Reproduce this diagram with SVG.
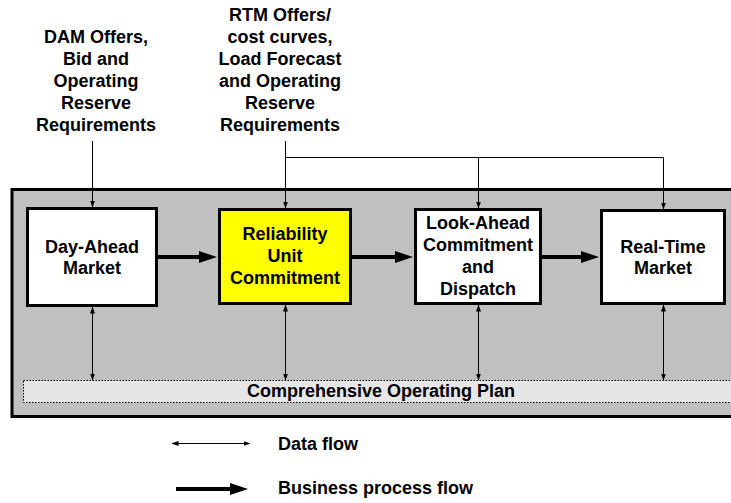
<svg xmlns="http://www.w3.org/2000/svg" width="731" height="503" viewBox="0 0 731 503">
  <style>
    text { font-family: "Liberation Sans", Arial, sans-serif; font-weight: bold; font-size: 18px; fill: #000; }
    .c { text-anchor: middle; }
    .box { fill: #fff; stroke: #000; stroke-width: 3; }
    .ruc { fill: #ffff00; }
    .data { fill: none; stroke: #000; stroke-width: 1; }
    .proc { fill: none; stroke: #000; stroke-width: 4; }
  </style>
  <defs>
    <marker id="dh" markerUnits="userSpaceOnUse" markerWidth="7" markerHeight="6" refX="6.5" refY="2.5" orient="auto-start-reverse">
      <path d="M0,0 L7,2.5 L0,5 z" fill="#000"/>
    </marker>
    <marker id="ph" markerUnits="userSpaceOnUse" markerWidth="19" markerHeight="13" refX="2" refY="6" orient="auto">
      <path d="M0,0 L18,6 L0,12 z" fill="#000"/>
    </marker>
  </defs>

  <!-- market system frame -->
  <rect id="frame" x="12" y="189.5" width="740" height="227" fill="#c0c0c0" stroke="#000" stroke-width="3"/>

  <!-- comprehensive operating plan bar -->
  <g id="cop">
    <rect x="23.5" y="380.5" width="720" height="22" fill="#e6e6e6" stroke="#000" stroke-width="1" stroke-dasharray="1.5,1.5"/>
    <text class="c" x="381" y="397">Comprehensive Operating Plan</text>
  </g>

  <!-- input labels -->
  <g id="dam-inputs">
    <text class="c" x="96" y="43">DAM Offers,</text>
    <text class="c" x="96" y="65">Bid and</text>
    <text class="c" x="96" y="87">Operating</text>
    <text class="c" x="96" y="109">Reserve</text>
    <text class="c" x="96" y="131">Requirements</text>
  </g>
  <g id="rtm-inputs">
    <text class="c" x="280" y="21">RTM Offers/</text>
    <text class="c" x="280" y="43">cost curves,</text>
    <text class="c" x="280" y="65">Load Forecast</text>
    <text class="c" x="280" y="87">and Operating</text>
    <text class="c" x="280" y="109">Reserve</text>
    <text class="c" x="280" y="131">Requirements</text>
  </g>

  <!-- process nodes -->
  <g id="dam">
    <rect class="box" x="27.5" y="208.5" width="129" height="97"/>
    <text class="c" x="92" y="252.5">Day-Ahead</text>
    <text class="c" x="92" y="274">Market</text>
  </g>
  <g id="ruc">
    <rect class="box ruc" x="219.5" y="209.5" width="131" height="94"/>
    <text class="c" x="285" y="240">Reliability</text>
    <text class="c" x="285" y="262">Unit</text>
    <text class="c" x="285" y="284">Commitment</text>
  </g>
  <g id="lac">
    <rect class="box" x="415.5" y="209.5" width="125" height="94"/>
    <text class="c" x="478" y="229">Look-Ahead</text>
    <text class="c" x="478" y="251">Commitment</text>
    <text class="c" x="478" y="273">and</text>
    <text class="c" x="478" y="295">Dispatch</text>
  </g>
  <g id="rtm">
    <rect class="box" x="601.5" y="210.5" width="123" height="93"/>
    <text class="c" x="663" y="252.5">Real-Time</text>
    <text class="c" x="663" y="274">Market</text>
  </g>

  <!-- connectors -->
  <g id="connectors">
    <!-- inputs -->
    <line class="data" x1="92.5" y1="141" x2="92.5" y2="207" marker-end="url(#dh)"/>
    <line class="data" x1="285.5" y1="141" x2="285.5" y2="208" marker-end="url(#dh)"/>
    <polyline class="data" points="285.5,157.5 663.5,157.5"/>
    <line class="data" x1="478.5" y1="157.5" x2="478.5" y2="208" marker-end="url(#dh)"/>
    <line class="data" x1="663.5" y1="157.5" x2="663.5" y2="209" marker-end="url(#dh)"/>
    <!-- links to the operating plan -->
    <line class="data" x1="92.5" y1="307" x2="92.5" y2="380" marker-start="url(#dh)" marker-end="url(#dh)"/>
    <line class="data" x1="285.5" y1="305" x2="285.5" y2="380" marker-start="url(#dh)" marker-end="url(#dh)"/>
    <line class="data" x1="478.5" y1="305" x2="478.5" y2="380" marker-start="url(#dh)" marker-end="url(#dh)"/>
    <line class="data" x1="663.5" y1="305" x2="663.5" y2="380" marker-start="url(#dh)" marker-end="url(#dh)"/>
    <!-- business process flow -->
    <line class="proc" x1="158" y1="257" x2="201" y2="257" marker-end="url(#ph)"/>
    <line class="proc" x1="352" y1="257" x2="397" y2="257" marker-end="url(#ph)"/>
    <line class="proc" x1="542" y1="257" x2="583" y2="257" marker-end="url(#ph)"/>
  </g>

  <!-- legend -->
  <g id="legend">
    <line class="data" x1="172" y1="443.5" x2="250" y2="443.5" marker-start="url(#dh)" marker-end="url(#dh)"/>
    <text x="278" y="450">Data flow</text>
    <line class="proc" x1="176" y1="489" x2="232" y2="489" marker-end="url(#ph)"/>
    <text x="278" y="494">Business process flow</text>
  </g>
</svg>
